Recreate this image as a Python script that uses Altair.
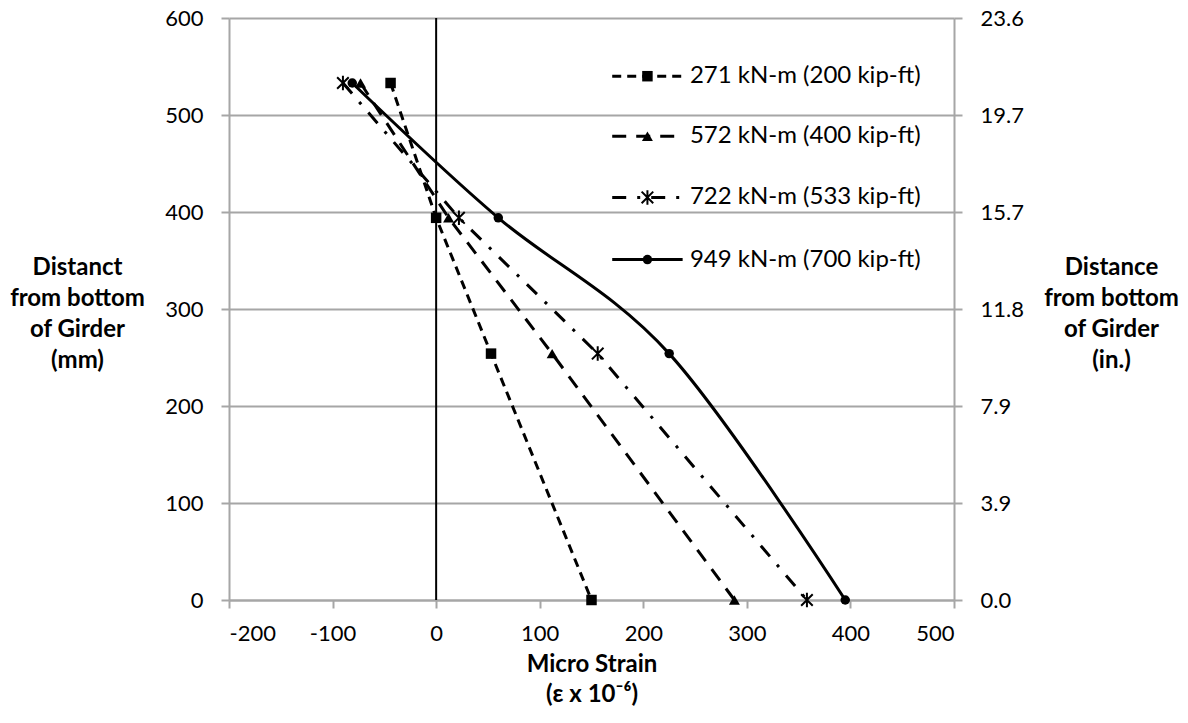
import altair as alt
import pandas as pd

# Gauge heights above the girder soffit (mm) and the strain read at each one
heights_mm = [533, 394, 254, 0]
strain_271 = [-44, 0, 53, 150]
strain_572 = [-73, 12, 112, 288]
strain_722 = [-90, 22, 156, 358]
strain_949 = [-81, 60, 225, 395]
series_labels = [
    "271 kN-m (200 kip-ft)",
    "572 kN-m (400 kip-ft)",
    "722 kN-m (533 kip-ft)",
    "949 kN-m (700 kip-ft)",
]
x_ticks = [-200, -100, 0, 100, 200, 300, 400, 500]
y_ticks = [0, 100, 200, 300, 400, 500, 600]

# Legend placement, in data units of the plot
LEG_X0, LEG_X1, LEG_XM, LEG_XT = 170, 238, 204, 245
legend_rows_y = [540, 478, 415, 351]

FONT = "Lato"
GRAY = "#A6A6A6"
TICK_FS = 22
TITLE_FS = 24
LEGEND_FS = 24
ASTERISK = "M-0.8,-0.8L0.8,0.8M-0.8,0.8L0.8,-0.8M0,-1L0,1"

styles = [
    dict(dash=[9, 6], shape="square", filled=True, size=110, interp="linear"),
    dict(dash=[14, 10], shape="triangle-up", filled=True, size=120, interp="linear"),
    dict(dash=[14, 11, 3, 11], shape=ASTERISK, filled=False, size=210, interp="linear"),
    dict(dash=None, shape="circle", filled=True, size=90, interp="cardinal"),
]

all_strains = [strain_271, strain_572, strain_722, strain_949]
rows = []
for label, strains in zip(series_labels, all_strains):
    for i, (h, s) in enumerate(zip(heights_mm, strains)):
        rows.append({"series": label, "order": i, "strain": s, "height": h})
df = pd.DataFrame(rows)

legend_df = pd.DataFrame({
    "series": series_labels,
    "ly": legend_rows_y,
    "x0": [LEG_X0] * 4,
    "x1": [LEG_X1] * 4,
    "xm": [LEG_XM] * 4,
    "xt": [LEG_XT] * 4,
})

x_scale = alt.Scale(domain=[-200, 500], nice=False, zero=False)
y_scale = alt.Scale(domain=[0, 600], nice=False, zero=False)

common_axis = dict(
    domainColor=GRAY, domainWidth=2, tickColor=GRAY, tickWidth=2, tickSize=8,
    labelFont=FONT, labelFontSize=TICK_FS, labelColor="black",
    titleFont=FONT, titleFontSize=TITLE_FS, titleFontWeight="bold", titleColor="black",
)

x_axis = alt.Axis(
    values=x_ticks, grid=False, labelExpr="datum.value + ''", labelPadding=15,
    title=["Micro Strain", "(\u03b5 x 10\u207b\u2076)"],
    titleLineHeight=30, titleBaseline="middle", titleY=64,
    **common_axis,
)
y_axis = alt.Axis(
    values=y_ticks, grid=True, gridColor=GRAY, gridWidth=2,
    labelExpr="datum.value + ''", labelPadding=18,
    title=["Distanct", "from bottom", "of Girder", "(mm)"],
    titleAngle=0, titleAlign="center", titleBaseline="middle",
    titleLineHeight=31, titleX=-152, titleY=249,
    **common_axis,
)
y_axis_in = alt.Axis(
    orient="right", values=y_ticks, grid=False,
    labelExpr="format(datum.value / 25.4, '.1f')", labelPadding=18,
    title=["Distance", "from bottom", "of Girder", "(in.)"],
    titleAngle=0, titleAlign="center", titleBaseline="middle",
    titleLineHeight=31, titleX=157, titleY=249,
    **common_axis,
)


def xenc(field):
    return alt.X(f"{field}:Q", scale=x_scale, axis=x_axis)


def yenc(field):
    return alt.Y(f"{field}:Q", scale=y_scale, axis=y_axis)


layers = []

# Vertical reference line at zero strain
zero_df = pd.DataFrame({"strain": [0]})
layers.append(
    alt.Chart(zero_df).mark_rule(color="black", strokeWidth=2).encode(x=xenc("strain"))
)

for label, st in zip(series_labels, styles):
    base = alt.Chart(df).transform_filter(alt.datum.series == label)
    line_kw = dict(color="black", strokeWidth=3, interpolate=st["interp"], strokeCap="butt")
    if st["dash"]:
        line_kw["strokeDash"] = st["dash"]
    layers.append(
        base.mark_line(**line_kw).encode(
            x=xenc("strain"), y=yenc("height"), order="order:Q"
        )
    )
    pt_kw = dict(shape=st["shape"], filled=st["filled"], size=st["size"],
                 color="black", opacity=1, strokeWidth=2)
    layers.append(base.mark_point(**pt_kw).encode(x=xenc("strain"), y=yenc("height")))

    # legend entry: line sample, marker and label
    lbase = alt.Chart(legend_df).transform_filter(alt.datum.series == label)
    rule_kw = dict(color="black", strokeWidth=3, strokeCap="butt")
    if st["dash"]:
        rule_kw["strokeDash"] = st["dash"]
    layers.append(
        lbase.mark_rule(**rule_kw).encode(x=xenc("x0"), x2="x1:Q", y=yenc("ly"))
    )
    layers.append(lbase.mark_point(**pt_kw).encode(x=xenc("xm"), y=yenc("ly")))
    layers.append(
        lbase.mark_text(align="left", baseline="middle", font=FONT, fontSize=LEGEND_FS,
                        color="black").encode(x=xenc("xt"), y=yenc("ly"), text="series:N")
    )

main = alt.layer(*layers)

right = alt.Chart(df).mark_point(opacity=0).encode(
    x=xenc("strain"),
    y=alt.Y("height:Q", scale=y_scale, axis=y_axis_in),
)

chart = (
    alt.layer(main, right)
    .resolve_scale(y="independent")
    .properties(
        width=725, height=582,
        padding={"left": 229, "top": 18, "right": 234, "bottom": 123},
        autosize=alt.AutoSizeParams(type="none"),
        background="white",
    )
    .configure_view(stroke=None)
)

chart.save("out.html", embed_options={"renderer": "svg", "actions": False})
